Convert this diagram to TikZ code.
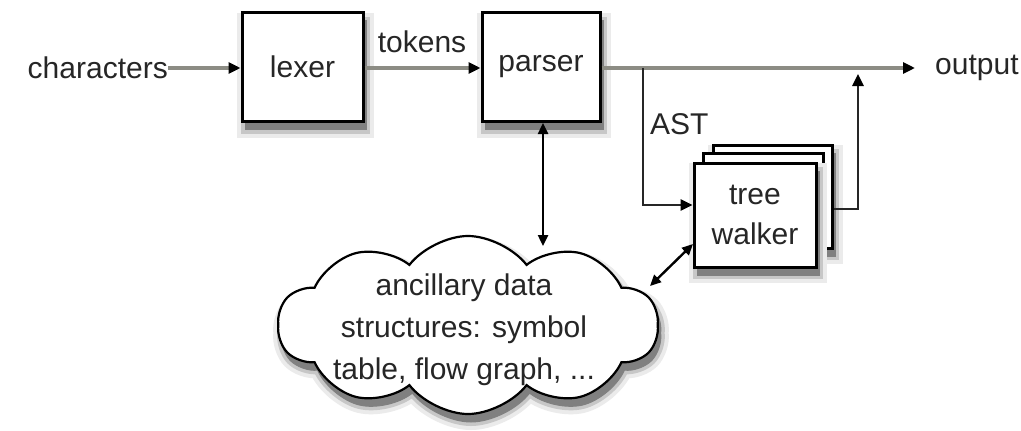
\documentclass[tikz,border=0pt]{standalone}
\usepackage{fontspec}
\setmainfont{Liberation Sans}
\usetikzlibrary{arrows.meta,shapes.symbols}
\definecolor{linegray}{HTML}{8C8C84}
\begin{document}
\begin{tikzpicture}[x=1pt,y=-1pt,
  every node/.style={font=\fontsize{30}{42}\selectfont, text=black!85},
  shad/.style={
    preaction={draw=black!8, line width=16pt, fill=black!8, transform canvas={xshift=3pt,yshift=-8pt}},
    preaction={draw=black!22, line width=8pt, fill=black!22, transform canvas={xshift=3pt,yshift=-8pt}},
    preaction={draw=black!50, line width=1pt, fill=black!50, transform canvas={xshift=3pt,yshift=-8pt}}},
  box/.style={draw=black, line width=3pt, fill=white, inner sep=0pt},
  tip/.style={-{Triangle[length=12pt,width=11pt,color=black]}},
  dtip/.style={{Triangle[length=11pt,width=10pt]}-{Triangle[length=11pt,width=10pt]}},
  hline/.style={line width=3.5pt, draw=linegray, tip},
  vline/.style={line width=2.6pt, draw=black!85, tip},
  lbl/.style={inner sep=0pt}
]
\useasboundingbox (0,0) rectangle (1021,431);
\fill[white] (0,0) rectangle (1021,431);

% nodes
\node[lbl, anchor=east] (chars) at (168,68) {characters};
\node[box, shad, minimum width=121pt, minimum height=109pt] (lexer) at (302.5,67) {lexer};
\node[box, shad, minimum width=118pt, minimum height=109pt] (parser) at (541,67) {parser};
\node[lbl] (tokens) at (422,42) {tokens};
\node[lbl, anchor=west, inner xsep=20pt] (out) at (915,68) {output};

% tree walker stack
\node[box, shad, minimum width=119pt, minimum height=103pt] (tw3) at (772.5,196.5) {};
\node[box, minimum width=120pt, minimum height=104pt] (tw2) at (763,205) {};
\node[box, shad, minimum width=122pt, minimum height=104pt, align=center, font=\fontsize{30}{40}\selectfont] (tw) at (755,215) {tree\\walker};

\node[lbl, anchor=west] (ast) at (650,124) {AST};

% cloud
\node[cloud, draw=black, line width=2.2pt, fill=white, cloud puffs=10, cloud puff arc=105,
      aspect=2.5, minimum width=380pt, minimum height=178pt, inner sep=0pt, shad] (cloud) at (468,325) {};
\node[lbl, align=center] (cloudtxt) at (464,330)
  {ancillary data\\structures: symbol\\table, flow graph, ...};

% coordinates
\coordinate (a1) at (643,68);
\coordinate (a2) at (643,205);
\coordinate (r1) at (858,209);
\coordinate (r2) at (858,74);
\coordinate (c1) at (543,246);
\coordinate (c2) at (650,286);
\coordinate (c3) at (693,244);

% connectors
\draw[hline] (chars.east) -- (lexer.west |- chars.east);
\draw[hline] (lexer.east |- a1) -- (parser.west |- a1);
\draw[hline] (parser.east |- a1) -- (out.west);
\draw[vline] (a1) -- (a2) -- (a2 -| tw.west);
\draw[vline] (tw3.east |- r1) -- (r1) -- (r2);
\draw[line width=2.4pt, black, dtip] (parser.south -| c1) -- (c1);
\draw[line width=2.4pt, black, dtip] (c2) -- (c3);
\end{tikzpicture}
\end{document}
